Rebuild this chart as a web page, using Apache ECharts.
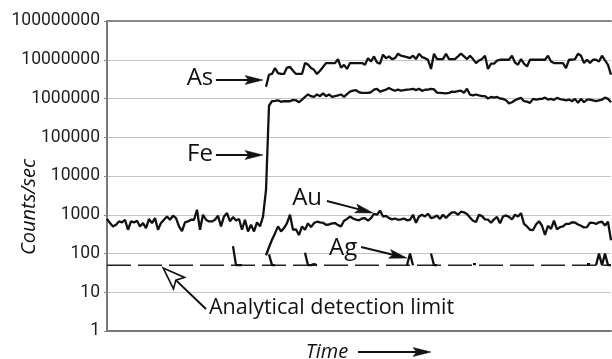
<!DOCTYPE html>
<html>
<head>
<meta charset="utf-8">
<script src="https://cdn.jsdelivr.net/npm/echarts@6/dist/echarts.min.js"></script>
<style>
  html, body { margin: 0; padding: 0; background: #fff; }
  #chart { width: 612px; height: 359px; }
</style>
</head>
<body>
<div id="chart"></div>
<script>
const timeMax = 168;
const yTickLabels = ['1', '10', '100', '1000', '10000', '100000', '1000000', '10000000', '100000000'];
const detectionLimit = 50;

const feStart = 0;
const feCounts = [
  780, 610, 500, 552, 672, 634, 743, 410, 672, 634,
  700, 500, 610, 450, 774, 610, 820, 410, 610, 743,
  905, 743, 942, 820, 500, 380, 634, 672, 743, 743,
  1346, 410, 1000, 743, 672, 672, 743, 942, 500, 905,
  1105, 672, 872, 713, 774, 410, 743, 371, 552, 371,
  634, 500, 890, 4300, 650000,
  850000, 870000, 900000, 820000, 850000, 850000, 850000, 920000, 900000, 800000,
  940000, 1100000, 1270000, 1150000, 1100000, 1270000, 1150000, 1350000, 1150000, 1270000,
  1100000, 1150000, 1200000, 1270000, 1100000, 1300000, 1500000, 1600000, 1640000, 1450000,
  1400000, 1400000, 1400000, 1450000, 1700000, 1780000, 1500000, 1600000, 1700000, 1850000,
  1700000, 1580000, 1700000, 1600000, 1650000, 1700000, 1720000, 1780000, 1650000, 1780000,
  1580000, 1680000, 1700000, 1780000, 1720000,
  1420000, 1400000, 1380000, 1360000, 1400000, 1500000, 1480000, 1540000, 1600000, 1400000,
  1780000, 1250000, 1200000, 1270000, 1200000, 1150000, 1150000, 1000000, 1100000, 1050000,
  1100000, 1000000, 980000, 900000, 750000, 800000, 900000, 980000, 1040000, 850000,
  830000, 770000, 980000, 940000, 970000, 980000, 1050000, 940000, 980000, 920000,
  1040000, 970000, 930000, 900000, 940000, 850000, 980000, 780000, 980000, 800000,
  940000, 940000, 900000, 860000, 900000, 940000, 1050000, 980000, 800000
];

const asStart = 53;
const asCounts = [
  2.0e6, 4.1e6, 4.3e6, 6.1e6, 4.5e6, 4.3e6, 4.3e6, 6.3e6, 6.5e6, 5.2e6,
  4.3e6, 4.3e6, 4.3e6, 8.2e6, 7.5e6, 6.1e6, 5.5e6, 4.3e6, 5.2e6, 6.5e6,
  8.2e6, 8.2e6, 8.2e6, 8.2e6, 10.4e6, 6.3e6, 7.4e6, 5.8e6, 8.2e6, 8.2e6,
  8.2e6, 8.2e6, 8.2e6, 7.4e6, 11e6, 9e6, 12.2e6, 8.5e6, 7.9e6, 13.5e6,
  11e6, 12.2e6, 10.4e6, 11e6, 14.3e6, 12.7e6, 12.2e6, 11.7e6, 11e6, 12.7e6,
  10.4e6, 14.3e6, 11.7e6, 11e6, 10e6, 5.8e6, 14.3e6, 10.4e6, 10.4e6, 10.4e6,
  14.3e6, 10.4e6, 10.4e6, 10.4e6, 12.2e6, 14.3e6, 12.2e6, 10.4e6, 12.7e6, 10.4e6,
  8.2e6, 9.6e6, 10.4e6, 12.7e6, 5.8e6, 7.9e6, 7.9e6, 9.5e6, 10e6, 10e6,
  10e6, 10e6, 12.7e6, 8.5e6, 7.4e6, 10.4e6, 7.9e6, 6.7e6, 10e6, 10e6,
  10e6, 10e6, 10e6, 10e6, 12.7e6, 9e6, 8.2e6, 8.2e6, 8.2e6, 8.2e6,
  6.1e6, 10e6, 10e6, 10.4e6, 14.3e6, 12.7e6, 8.2e6, 10e6, 8.2e6, 10e6,
  10e6, 9e6, 12.7e6, 9.6e6, 7.4e6, 4.1e6
];

const auStart = 53;
const auCounts = [
  90, 145, 226, 330, 500, 372, 453, 610, 1000, 410,
  420, 300, 500, 410, 600, 480, 610, 660, 634, 620,
  550, 560, 600, 610, 540, 500, 700, 780, 900, 800,
  750, 720, 800, 820, 700, 820, 1050, 1000, 1280, 900,
  940, 820, 760, 800, 740, 760, 800, 720, 743, 1000,
  620, 906, 1000, 906, 1061, 820, 860, 950, 780, 1000,
  820, 1000, 1150, 1150, 1000, 1200, 1150, 1050, 850, 700,
  650, 1000, 920, 760, 750, 620, 760, 880, 600, 900,
  960, 880, 760, 1000, 900, 1100, 580, 500, 410, 400,
  560, 680, 520, 300, 520, 430, 700, 420, 480, 500,
  580, 580, 640, 630, 560, 520, 470, 480, 630, 620,
  580, 640, 660, 530, 660, 220
];

// Ag only shows where it rises above the detection limit; '-' breaks the line
const agTime = [42, 43, 44, 45, '-', 54, 55, 56, '-', 66, 67, 68, 69, 70, '-', 100, 101, 102, '-',
  108, 109, 110, '-', 122, 123, '-', 160, 161, '-', 163, 164, 165, 166, 167, 168];
const agCounts = [155, 50, 50, 50, '-', 95, 50, 50, '-', 105, 50, 50, 53, 50, '-', 50, 100, 50, '-',
  100, 50, 50, '-', 53, 53, '-', 53, 53, '-', 50, 100, 50, 100, 50, 50];

// annotations, in data coordinates [time, counts]
const labels = [
  { text: 'As', at: [31, 3.38e6] },
  { text: 'Fe', at: [31, 37000] },
  { text: 'Au', at: [66.7, 2700] },
  { text: 'Ag', at: [78.7, 139] }
];
const pointers = [
  { from: [36.3, 3.0e6], to: [52, 3.0e6] },
  { from: [36.3, 34800], to: [52, 34800] },
  { from: [73.3, 2260], to: [88.7, 1110] },
  { from: [84.7, 147], to: [100, 76] }
];
const limitLabel = { text: 'Analytical detection limit', at: [34, 4.04] };
const limitPointer = { from: [33, 3.7], to: [18.7, 42.3] };

const lineColor = '#111';
const annFont = '"Open Sans", sans-serif';

const chart = echarts.init(document.getElementById('chart'));

function toSeries(start, arr) {
  return arr.map((v, k) => [start + k, v]);
}

const option = {
  animation: false,
  grid: { left: 107, right: 1, top: 21, bottom: 28 },
  xAxis: [
    {
      type: 'value', min: 0, max: timeMax,
      axisLine: { show: true, onZero: false, lineStyle: { color: '#777', width: 2 } },
      axisTick: { show: false },
      axisLabel: { show: false },
      splitLine: { show: false }
    },
    {
      type: 'value', min: 0, max: timeMax, position: 'top',
      axisLine: { show: true, onZero: false, lineStyle: { color: '#888', width: 2 } },
      axisTick: { show: false },
      axisLabel: { show: false },
      splitLine: { show: false }
    }
  ],
  yAxis: {
    type: 'log', logBase: 10, min: 1, max: 1e8, splitNumber: 8,
    axisLine: { show: true, lineStyle: { color: '#777', width: 2 } },
    axisTick: { show: true, length: 3, lineStyle: { color: '#888' } },
    axisLabel: {
      margin: 7,
      color: '#231f20',
      fontFamily: 'Roboto',
      fontSize: 17.5,
      formatter: v => yTickLabels[Math.round(Math.log10(v))]
    },
    splitLine: { show: true, lineStyle: { color: '#c4c4c4', width: 1 } }
  },
  series: [
    {
      name: 'Detection limit', type: 'line', showSymbol: false, silent: true,
      data: [[0, detectionLimit], [timeMax, detectionLimit]],
      lineStyle: { color: '#222', width: 1.5, type: [24, 7] }
    },
    {
      name: 'Fe', type: 'line', showSymbol: false,
      data: toSeries(feStart, feCounts),
      lineStyle: { color: lineColor, width: 2.3 }
    },
    {
      name: 'As', type: 'line', showSymbol: false,
      data: toSeries(asStart, asCounts),
      lineStyle: { color: lineColor, width: 2.3 }
    },
    {
      name: 'Au', type: 'line', showSymbol: false,
      data: toSeries(auStart, auCounts),
      lineStyle: { color: lineColor, width: 2.3 }
    },
    {
      name: 'Ag', type: 'line', showSymbol: false, connectNulls: false,
      data: agTime.map((t, k) => [t, agCounts[k]]),
      lineStyle: { color: lineColor, width: 2.3 }
    }
  ]
};

chart.setOption(option);

function toPx(p) {
  return chart.convertToPixel({ xAxisIndex: 0, yAxisIndex: 0 }, p);
}

// straight line with a notched arrow head at the "to" end
function arrow(p1, p2, head, half, hollow) {
  const dx = p2[0] - p1[0], dy = p2[1] - p1[1];
  const len = Math.hypot(dx, dy);
  const ux = dx / len, uy = dy / len;
  const nx = -uy, ny = ux;
  const bx = p2[0] - ux * head, by = p2[1] - uy * head;
  const notch = head * 0.2;
  const mx = bx + ux * notch, my = by + uy * notch;
  return [
    {
      type: 'line',
      shape: { x1: p1[0], y1: p1[1], x2: mx, y2: my },
      style: { stroke: lineColor, lineWidth: 2 }
    },
    {
      type: 'polygon',
      shape: { points: [p2, [bx + nx * half, by + ny * half], [mx, my], [bx - nx * half, by - ny * half]] },
      style: { fill: hollow ? '#fff' : lineColor, stroke: lineColor, lineWidth: hollow ? 1.6 : 0.5 }
    }
  ];
}

const graphics = [];
labels.forEach(l => {
  const p = toPx(l.at);
  graphics.push({
    type: 'text', x: p[0], y: p[1],
    style: { text: l.text, fill: lineColor, font: '24px ' + annFont, align: 'center', verticalAlign: 'middle' }
  });
});
pointers.forEach(a => graphics.push(...arrow(toPx(a.from), toPx(a.to), 18, 4.5, false)));

const lp = toPx(limitLabel.at);
graphics.push({
  type: 'text', x: lp[0], y: lp[1],
  style: { text: limitLabel.text, fill: lineColor, font: '21.5px ' + annFont, align: 'left', verticalAlign: 'middle' }
});
graphics.push(...arrow(toPx(limitPointer.from), toPx(limitPointer.to), 22, 8, true));

// axis titles
const rect = chart.getModel().getComponent('grid').coordinateSystem.getRect();
graphics.push({
  type: 'text', x: 29, y: rect.y + rect.height / 2 + 31, rotation: Math.PI / 2,
  style: { text: 'Counts/sec', fill: lineColor, font: 'italic 20px ' + annFont, align: 'center', verticalAlign: 'middle' }
});
const timeY = rect.y + rect.height + 21;
graphics.push({
  type: 'text', x: 327, y: timeY,
  style: { text: 'Time', fill: lineColor, font: 'italic 20px ' + annFont, align: 'center', verticalAlign: 'middle' }
});
graphics.push(...arrow([358, timeY], [431, timeY], 18, 4.5, false));

chart.setOption({ graphic: graphics });
</script>
</body>
</html>
